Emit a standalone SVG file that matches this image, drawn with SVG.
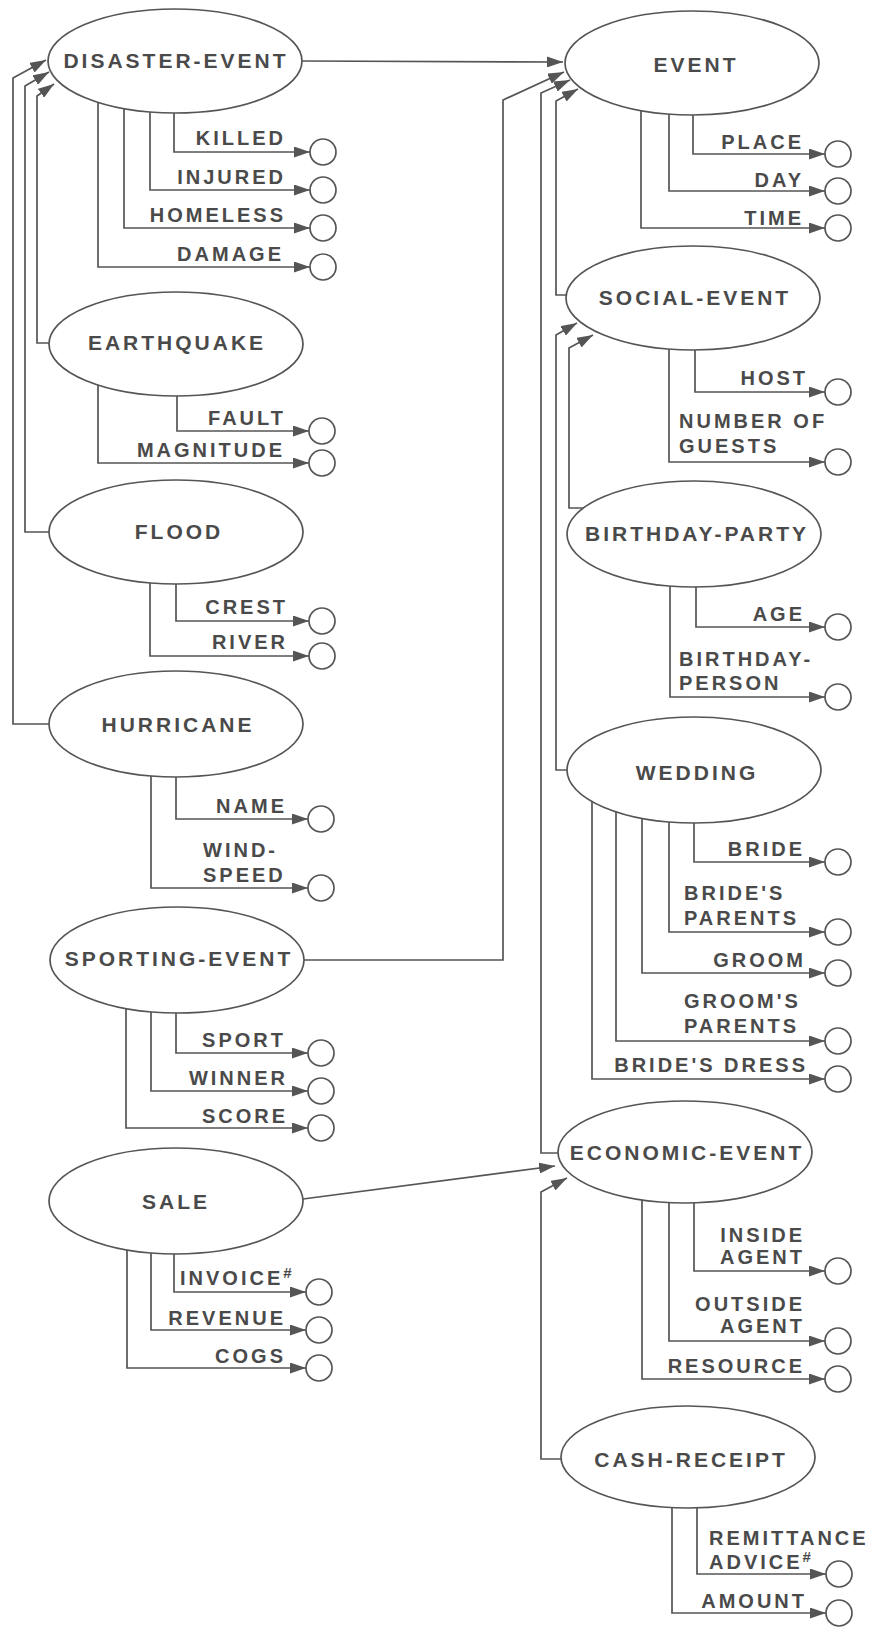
<svg xmlns="http://www.w3.org/2000/svg" width="882" height="1637" viewBox="0 0 882 1637">
  <style>
    .bg { fill: #ffffff; }
    .ell { fill: #ffffff; stroke: #555555; stroke-width: 1.7; }
    .val { fill: #ffffff; stroke: #555555; stroke-width: 1.7; }
    .ln { fill: none; stroke: #555555; stroke-width: 1.7; }
    .arr { marker-end: url(#head); }
    text { font-family: "Liberation Sans", Arial, sans-serif; font-weight: bold; fill: #4a4a4a; letter-spacing: 3px; }
    .nm { font-size: 21px; text-anchor: middle; }
    .lb { font-size: 20px; }
    .r { text-anchor: end; }
    .sup { font-size: 15px; }
  </style>
  <defs>
    <marker id="head" markerUnits="userSpaceOnUse" markerWidth="17" markerHeight="11" refX="16" refY="5.5" orient="auto">
      <path d="M0,0 L16,5.5 L0,11 z" fill="#555555"/>
    </marker>
  </defs>
  <rect class="bg" x="0" y="0" width="882" height="1637"/>

  <!-- connectors: generalisation links and attribute links -->
  <g id="connectors">
    <!-- generalisation links -->
    <path class="ln arr" d="M302,61 L563,62"/>
    <path class="ln arr" d="M60,724 H13 V78 L46,60"/>
    <path class="ln arr" d="M60,532 H25 V86 L49,72"/>
    <path class="ln arr" d="M60,343 H37 V96 L54,84"/>
    <path class="ln arr" d="M300,960 H503 V100 L564,72"/>
    <path class="ln arr" d="M580,1153 H541 V93 L570,80"/>
    <path class="ln arr" d="M580,295 H556 V101 L578,89"/>
    <path class="ln arr" d="M580,770 H556 V335 L577,323"/>
    <path class="ln arr" d="M590,508 H569 V348 L593,335"/>
    <path class="ln arr" d="M303,1199 L555,1166"/>
    <path class="ln arr" d="M580,1459 H541 V1192 L567,1178"/>

    <!-- DISASTER-EVENT attributes -->
    <path class="ln arr" d="M174,61 V152 H310"/>
    <path class="ln arr" d="M150,61 V190 H310"/>
    <path class="ln arr" d="M124,61 V228 H310"/>
    <path class="ln arr" d="M98,61 V267 H310"/>
    <!-- EARTHQUAKE attributes -->
    <path class="ln arr" d="M177,344 V431 H309"/>
    <path class="ln arr" d="M98,344 V463 H309"/>
    <!-- FLOOD attributes -->
    <path class="ln arr" d="M176,532 V621 H309"/>
    <path class="ln arr" d="M150,532 V656 H309"/>
    <!-- HURRICANE attributes -->
    <path class="ln arr" d="M176,724 V819 H308"/>
    <path class="ln arr" d="M151,724 V888 H308"/>
    <!-- SPORTING-EVENT attributes -->
    <path class="ln arr" d="M176,960 V1053 H308"/>
    <path class="ln arr" d="M151,960 V1091 H308"/>
    <path class="ln arr" d="M126,960 V1128 H308"/>
    <!-- SALE attributes -->
    <path class="ln arr" d="M174,1201 V1292 H306"/>
    <path class="ln arr" d="M151,1201 V1330 H306"/>
    <path class="ln arr" d="M127,1201 V1368 H306"/>
    <!-- EVENT attributes -->
    <path class="ln arr" d="M693,63 V154 H825"/>
    <path class="ln arr" d="M669,63 V191 H825"/>
    <path class="ln arr" d="M641,63 V228 H825"/>
    <!-- SOCIAL-EVENT attributes -->
    <path class="ln arr" d="M695,298 V392 H825"/>
    <path class="ln arr" d="M669,298 V462 H825"/>
    <!-- BIRTHDAY-PARTY attributes -->
    <path class="ln arr" d="M696,534 V627 H825"/>
    <path class="ln arr" d="M670,534 V697 H825"/>
    <!-- WEDDING attributes -->
    <path class="ln arr" d="M694,770 V862 H825"/>
    <path class="ln arr" d="M669,770 V932 H825"/>
    <path class="ln arr" d="M642,770 V973 H825"/>
    <path class="ln arr" d="M616,770 V1041 H825"/>
    <path class="ln arr" d="M592,770 V1079 H825"/>
    <!-- ECONOMIC-EVENT attributes -->
    <path class="ln arr" d="M694,1152 V1271 H825"/>
    <path class="ln arr" d="M669,1152 V1341 H825"/>
    <path class="ln arr" d="M642,1152 V1379 H825"/>
    <!-- CASH-RECEIPT attributes -->
    <path class="ln arr" d="M697,1457 V1574 H826"/>
    <path class="ln arr" d="M672,1457 V1613 H826"/>
  </g>

  <!-- left column entities -->
  <g id="disaster-event">
    <ellipse class="ell" cx="175" cy="61" rx="127" ry="52"/>
    <text class="nm" x="176" y="68">DISASTER-EVENT</text>
    <text class="lb r" x="286" y="145">KILLED</text>
    <circle class="val" cx="323" cy="152" r="13"/>
    <text class="lb r" x="286" y="184">INJURED</text>
    <circle class="val" cx="323" cy="190" r="13"/>
    <text class="lb r" x="286" y="222">HOMELESS</text>
    <circle class="val" cx="323" cy="228" r="13"/>
    <text class="lb r" x="284" y="261">DAMAGE</text>
    <circle class="val" cx="323" cy="267" r="13"/>
  </g>

  <g id="earthquake">
    <ellipse class="ell" cx="176" cy="344" rx="127" ry="52"/>
    <text class="nm" x="177" y="350">EARTHQUAKE</text>
    <text class="lb r" x="286" y="425">FAULT</text>
    <circle class="val" cx="322" cy="431" r="13"/>
    <text class="lb r" x="285" y="457">MAGNITUDE</text>
    <circle class="val" cx="322" cy="463" r="13"/>
  </g>

  <g id="flood">
    <ellipse class="ell" cx="176" cy="532" rx="127" ry="52"/>
    <text class="nm" x="179" y="539">FLOOD</text>
    <text class="lb r" x="288" y="614">CREST</text>
    <circle class="val" cx="322" cy="621" r="13"/>
    <text class="lb r" x="288" y="649">RIVER</text>
    <circle class="val" cx="322" cy="656" r="13"/>
  </g>

  <g id="hurricane">
    <ellipse class="ell" cx="176" cy="724" rx="127" ry="53"/>
    <text class="nm" x="178" y="732">HURRICANE</text>
    <text class="lb r" x="287" y="813">NAME</text>
    <circle class="val" cx="321" cy="819" r="13"/>
    <text class="lb" x="203" y="857">WIND-</text>
    <text class="lb" x="203" y="882">SPEED</text>
    <circle class="val" cx="321" cy="888" r="13"/>
  </g>

  <g id="sporting-event">
    <ellipse class="ell" cx="177" cy="960" rx="127" ry="53"/>
    <text class="nm" x="179" y="966">SPORTING-EVENT</text>
    <text class="lb r" x="286" y="1047">SPORT</text>
    <circle class="val" cx="321" cy="1053" r="13"/>
    <text class="lb r" x="288" y="1085">WINNER</text>
    <circle class="val" cx="321" cy="1091" r="13"/>
    <text class="lb r" x="288" y="1123">SCORE</text>
    <circle class="val" cx="321" cy="1128" r="13"/>
  </g>

  <g id="sale">
    <ellipse class="ell" cx="176" cy="1201" rx="127" ry="53"/>
    <text class="nm" x="176" y="1209">SALE</text>
    <text class="lb" x="180" y="1285">INVOICE<tspan class="sup" dy="-7">#</tspan></text>
    <circle class="val" cx="319" cy="1292" r="13"/>
    <text class="lb r" x="286" y="1325">REVENUE</text>
    <circle class="val" cx="319" cy="1330" r="13"/>
    <text class="lb r" x="286" y="1363">COGS</text>
    <circle class="val" cx="319" cy="1368" r="13"/>
  </g>

  <!-- right column entities -->
  <g id="event">
    <ellipse class="ell" cx="692" cy="63" rx="127" ry="52"/>
    <text class="nm" x="696" y="72">EVENT</text>
    <text class="lb r" x="804" y="149">PLACE</text>
    <circle class="val" cx="838" cy="154" r="13"/>
    <text class="lb r" x="804" y="187">DAY</text>
    <circle class="val" cx="838" cy="191" r="13"/>
    <text class="lb r" x="804" y="225">TIME</text>
    <circle class="val" cx="838" cy="228" r="13"/>
  </g>

  <g id="social-event">
    <ellipse class="ell" cx="693" cy="298" rx="127" ry="52"/>
    <text class="nm" x="695" y="305">SOCIAL-EVENT</text>
    <text class="lb r" x="808" y="385">HOST</text>
    <circle class="val" cx="838" cy="392" r="13"/>
    <text class="lb" x="679" y="428">NUMBER OF</text>
    <text class="lb" x="679" y="453">GUESTS</text>
    <circle class="val" cx="838" cy="462" r="13"/>
  </g>

  <g id="birthday-party">
    <ellipse class="ell" cx="694" cy="534" rx="127" ry="53"/>
    <text class="nm" x="697" y="541">BIRTHDAY-PARTY</text>
    <text class="lb r" x="805" y="621">AGE</text>
    <circle class="val" cx="838" cy="627" r="13"/>
    <text class="lb" x="679" y="666">BIRTHDAY-</text>
    <text class="lb" x="679" y="690">PERSON</text>
    <circle class="val" cx="838" cy="697" r="13"/>
  </g>

  <g id="wedding">
    <ellipse class="ell" cx="694" cy="770" rx="127" ry="53"/>
    <text class="nm" x="697" y="780">WEDDING</text>
    <text class="lb r" x="805" y="856">BRIDE</text>
    <circle class="val" cx="838" cy="862" r="13"/>
    <text class="lb" x="684" y="900">BRIDE'S</text>
    <text class="lb" x="684" y="925">PARENTS</text>
    <circle class="val" cx="838" cy="932" r="13"/>
    <text class="lb r" x="806" y="967">GROOM</text>
    <circle class="val" cx="838" cy="973" r="13"/>
    <text class="lb" x="684" y="1008">GROOM'S</text>
    <text class="lb" x="684" y="1033">PARENTS</text>
    <circle class="val" cx="838" cy="1041" r="13"/>
    <text class="lb r" x="808" y="1072">BRIDE'S DRESS</text>
    <circle class="val" cx="838" cy="1079" r="13"/>
  </g>

  <g id="economic-event">
    <ellipse class="ell" cx="685" cy="1152" rx="127" ry="51"/>
    <text class="nm" x="687" y="1160">ECONOMIC-EVENT</text>
    <text class="lb r" x="805" y="1242">INSIDE</text>
    <text class="lb r" x="805" y="1264">AGENT</text>
    <circle class="val" cx="838" cy="1271" r="13"/>
    <text class="lb r" x="805" y="1311">OUTSIDE</text>
    <text class="lb r" x="805" y="1333">AGENT</text>
    <circle class="val" cx="838" cy="1341" r="13"/>
    <text class="lb r" x="805" y="1373">RESOURCE</text>
    <circle class="val" cx="838" cy="1379" r="13"/>
  </g>

  <g id="cash-receipt">
    <ellipse class="ell" cx="688" cy="1457" rx="127" ry="51"/>
    <text class="nm" x="691" y="1467">CASH-RECEIPT</text>
    <text class="lb" x="709" y="1545">REMITTANCE</text>
    <text class="lb" x="709" y="1569">ADVICE<tspan class="sup" dy="-7">#</tspan></text>
    <circle class="val" cx="839" cy="1574" r="13"/>
    <text class="lb r" x="807" y="1608">AMOUNT</text>
    <circle class="val" cx="839" cy="1613" r="13"/>
  </g>
</svg>
